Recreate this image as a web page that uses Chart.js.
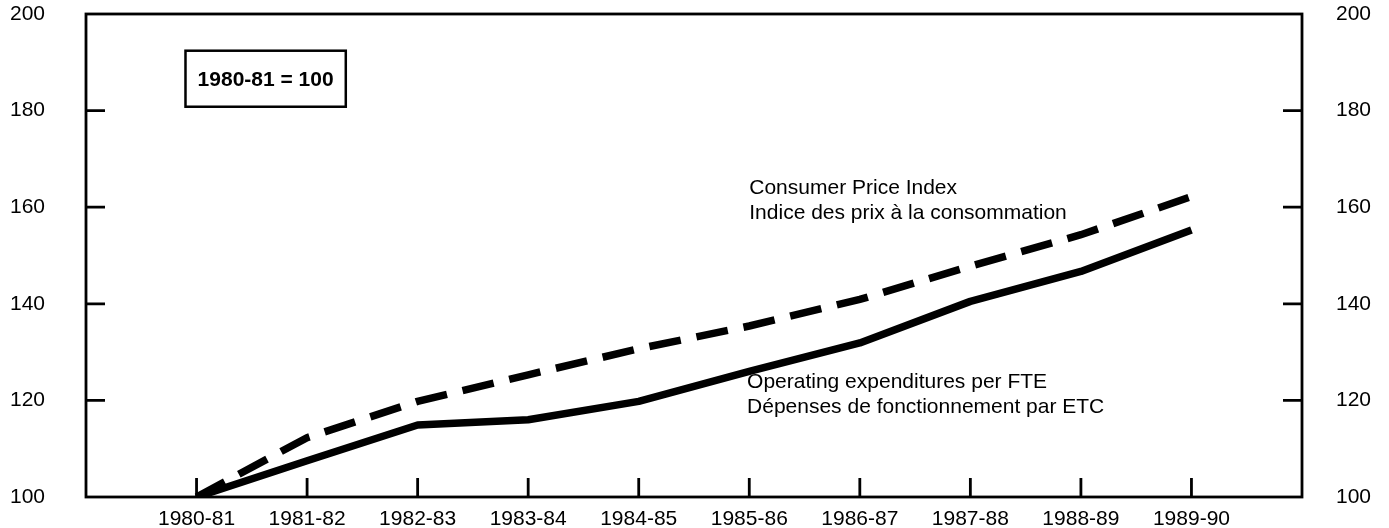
<!DOCTYPE html>
<html>
<head>
<meta charset="utf-8">
<script src="https://cdn.jsdelivr.net/npm/chart.js@4/dist/chart.umd.min.js"></script>
<style>
  html, body { margin: 0; padding: 0; background: #fff; }
  #wrap { width: 1389px; height: 528px; }
</style>
</head>
<body>
<div id="wrap"><canvas id="c" width="1389" height="528"></canvas></div>
<script>
const categories = ['1980-81','1981-82','1982-83','1983-84','1984-85','1985-86','1986-87','1987-88','1988-89','1989-90'];
const operatingPerFTE = [100, 107.5, 114.9, 116.0, 119.8, 126.0, 131.9, 140.5, 146.7, 155.3];
const consumerPriceIndex = [100, 112.3, 119.8, 125.3, 130.7, 135.4, 140.9, 147.8, 154.3, 162.2];
const yTicks = [100, 120, 140, 160, 180, 200];
const innerYTicks = [120, 140, 160, 180];

const FONT = '"Liberation Sans", Arial, Helvetica, sans-serif';

const framePlugin = {
  id: 'frameAndNotes',
  afterDatasetsDraw(chart) {
    const ctx = chart.ctx;
    const a = chart.chartArea;
    const xs = chart.scales.x, yl = chart.scales.y, yr = chart.scales.y2;
    ctx.save();
    ctx.strokeStyle = '#000';
    ctx.lineWidth = 2.8;
    ctx.strokeRect(a.left, a.top, a.right - a.left, a.bottom - a.top);
    ctx.beginPath();
    innerYTicks.forEach(v => {
      const y = yl.getPixelForValue(v);
      ctx.moveTo(a.left, y); ctx.lineTo(a.left + 19, y);
      const y2 = yr.getPixelForValue(v);
      ctx.moveTo(a.right, y2); ctx.lineTo(a.right - 19, y2);
    });
    categories.forEach((c, i) => {
      const x = xs.getPixelForValue(i);
      ctx.moveTo(x, a.bottom); ctx.lineTo(x, a.bottom - 19);
    });
    ctx.stroke();

    const bx1 = xs.getPixelForValue(-0.1), bx2 = xs.getPixelForValue(1.35);
    const by1 = yl.getPixelForValue(192.4), by2 = yl.getPixelForValue(180.8);
    ctx.lineWidth = 2.5;
    ctx.strokeRect(bx1, by1, bx2 - bx1, by2 - by1);
    ctx.fillStyle = '#000';
    ctx.font = 'bold 21px ' + FONT;
    ctx.textAlign = 'center';
    ctx.textBaseline = 'middle';
    ctx.fillText('1980-81 = 100', (bx1 + bx2) / 2, (by1 + by2) / 2 + 1);

    ctx.font = '21px ' + FONT;
    ctx.textAlign = 'left';
    const tx = xs.getPixelForValue(5.0);
    ctx.fillText('Consumer Price Index', tx, yl.getPixelForValue(164.0));
    ctx.fillText('Indice des prix à la consommation', tx, yl.getPixelForValue(158.8));
    const ox = xs.getPixelForValue(4.98);
    ctx.fillText('Operating expenditures per FTE', ox, yl.getPixelForValue(123.8));
    ctx.fillText('Dépenses de fonctionnement par ETC', ox, yl.getPixelForValue(118.5));
    ctx.restore();
  }
};

function fixY(width) {
  return function (s) { s.width = width; s.paddingTop = 0; s.paddingBottom = 0; };
}

new Chart(document.getElementById('c'), {
  type: 'line',
  data: {
    datasets: [
      {
        label: 'Operating expenditures per FTE',
        data: operatingPerFTE.map((v, i) => ({ x: i, y: v })),
        borderColor: '#000',
        borderWidth: 7.5,
        pointRadius: 0,
        tension: 0,
        borderJoinStyle: 'round',
        yAxisID: 'y'
      },
      {
        label: 'Consumer Price Index',
        data: consumerPriceIndex.map((v, i) => ({ x: i, y: v })),
        borderColor: '#000',
        borderWidth: 7.5,
        borderDash: [32, 16],
        borderCapStyle: 'butt',
        pointRadius: 0,
        tension: 0,
        yAxisID: 'y'
      }
    ]
  },
  options: {
    responsive: false,
    animation: false,
    layout: { padding: { top: 14, left: 0, right: 0, bottom: 0 } },
    plugins: { legend: { display: false }, tooltip: { enabled: false } },
    scales: {
      x: {
        type: 'linear',
        min: -1, max: 10,
        afterFit(s) { s.height = 31; s.paddingLeft = 0; s.paddingRight = 0; },
        afterBuildTicks(s) { s.ticks = categories.map((c, i) => ({ value: i })); },
        ticks: {
          autoSkip: false, maxRotation: 0, padding: 10,
          color: '#000', font: { family: FONT, size: 21 },
          callback: (v) => categories[v] ?? ''
        },
        grid: { display: false, drawTicks: false },
        border: { display: false }
      },
      y: {
        position: 'left',
        min: 100, max: 200,
        afterFit: fixY(86),
        afterBuildTicks(s) { s.ticks = yTicks.map(v => ({ value: v })); },
        ticks: { padding: 41, color: '#000', font: { family: FONT, size: 21 } },
        grid: { display: false, drawTicks: false },
        border: { display: false }
      },
      y2: {
        position: 'right',
        min: 100, max: 200,
        afterFit: fixY(87),
        afterBuildTicks(s) { s.ticks = yTicks.map(v => ({ value: v })); },
        ticks: { padding: 34, color: '#000', font: { family: FONT, size: 21 } },
        grid: { display: false, drawTicks: false },
        border: { display: false }
      }
    }
  },
  plugins: [framePlugin]
});
</script>
</body>
</html>
